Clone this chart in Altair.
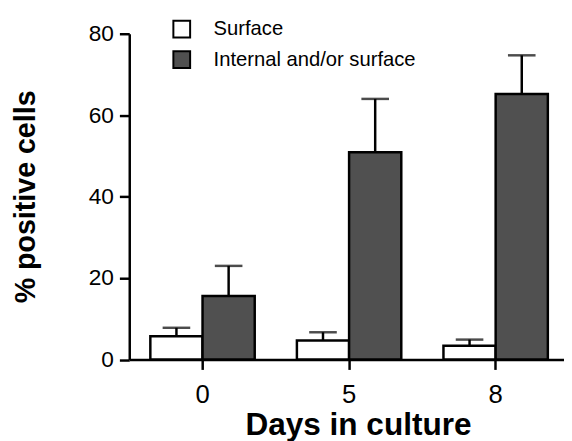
import altair as alt
import pandas as pd

days = ["0", "5", "8"]
groups = ["Surface", "Internal and/or surface"]
surface = [5.7, 4.7, 3.4]
surface_err = [2.1, 2.0, 1.5]
internal = [15.6, 50.9, 65.2]
internal_err = [7.4, 13.1, 9.5]

rows = []
for i, d in enumerate(days):
    rows.append({"day": d, "group": groups[0], "value": surface[i],
                 "upper": surface[i] + surface_err[i]})
    rows.append({"day": d, "group": groups[1], "value": internal[i],
                 "upper": internal[i] + internal_err[i]})
df = pd.DataFrame(rows)

FONT = "Liberation Sans"

x = alt.X(
    "day:N", sort=days, title="Days in culture",
    scale=alt.Scale(paddingInner=0, paddingOuter=0, range=[0, 446]),
    axis=alt.Axis(
        labelAngle=0, labelFontSize=26, labelFont=FONT, labelColor="black",
        labelPadding=13, tickSize=10, tickWidth=2.5, tickColor="black",
        domainWidth=2.5, domainColor="black",
        titleFont=FONT, titleFontSize=32, titleFontWeight="bold", titleColor="black",
        titleX=232, titleY=76, titleBaseline="alphabetic",
    ),
)
xo = alt.XOffset("group:N", sort=groups,
                 scale=alt.Scale(paddingInner=0, paddingOuter=0.404))
y = alt.Y(
    "value:Q", title="% positive cells",
    scale=alt.Scale(domain=[0, 80], nice=False),
    axis=alt.Axis(
        values=[0, 20, 40, 60, 80], grid=False,
        labelFontSize=23, labelFont=FONT, labelColor="black", labelPadding=6,
        tickSize=10, tickWidth=2.5, tickColor="black",
        domainWidth=2.5, domainColor="black",
        titleFont=FONT, titleFontSize=29, titleFontWeight="bold", titleColor="black",
        titleX=-96, titleY=165, titleBaseline="alphabetic", titleAngle=270,
    ),
)

bars = alt.Chart(df).mark_bar(stroke="black", strokeWidth=2.5).encode(
    x=x, xOffset=xo, y=y,
    fill=alt.Fill(
        "group:N", sort=groups,
        scale=alt.Scale(domain=groups, range=["white", "#505050"]),
        legend=alt.Legend(
            orient="none", legendX=43, legendY=-15, title=None,
            symbolType="square", symbolSize=289, symbolStrokeColor="black",
            symbolStrokeWidth=2, labelFont=FONT, labelFontSize=20.5,
            labelColor="black", labelOffset=22, rowPadding=5, padding=0,
            labelLimit=400,
        ),
    ),
)

err = alt.Chart(df).mark_rule(color="black", strokeWidth=2.5).encode(
    x=x, xOffset=xo, y="value:Q", y2="upper:Q",
)
caps = alt.Chart(df).mark_tick(color="black", thickness=2.5, size=28,
                               orient="horizontal").encode(
    x=x, xOffset=xo, y="upper:Q",
)

chart = alt.layer(err, caps, bars).properties(
    width=441, height=330.5, autosize="none",
    padding={"left": 123, "top": 23, "right": 0, "bottom": 79},
).configure_view(stroke=None)

chart.save("out.html", embed_options={"renderer": "svg", "actions": False})
